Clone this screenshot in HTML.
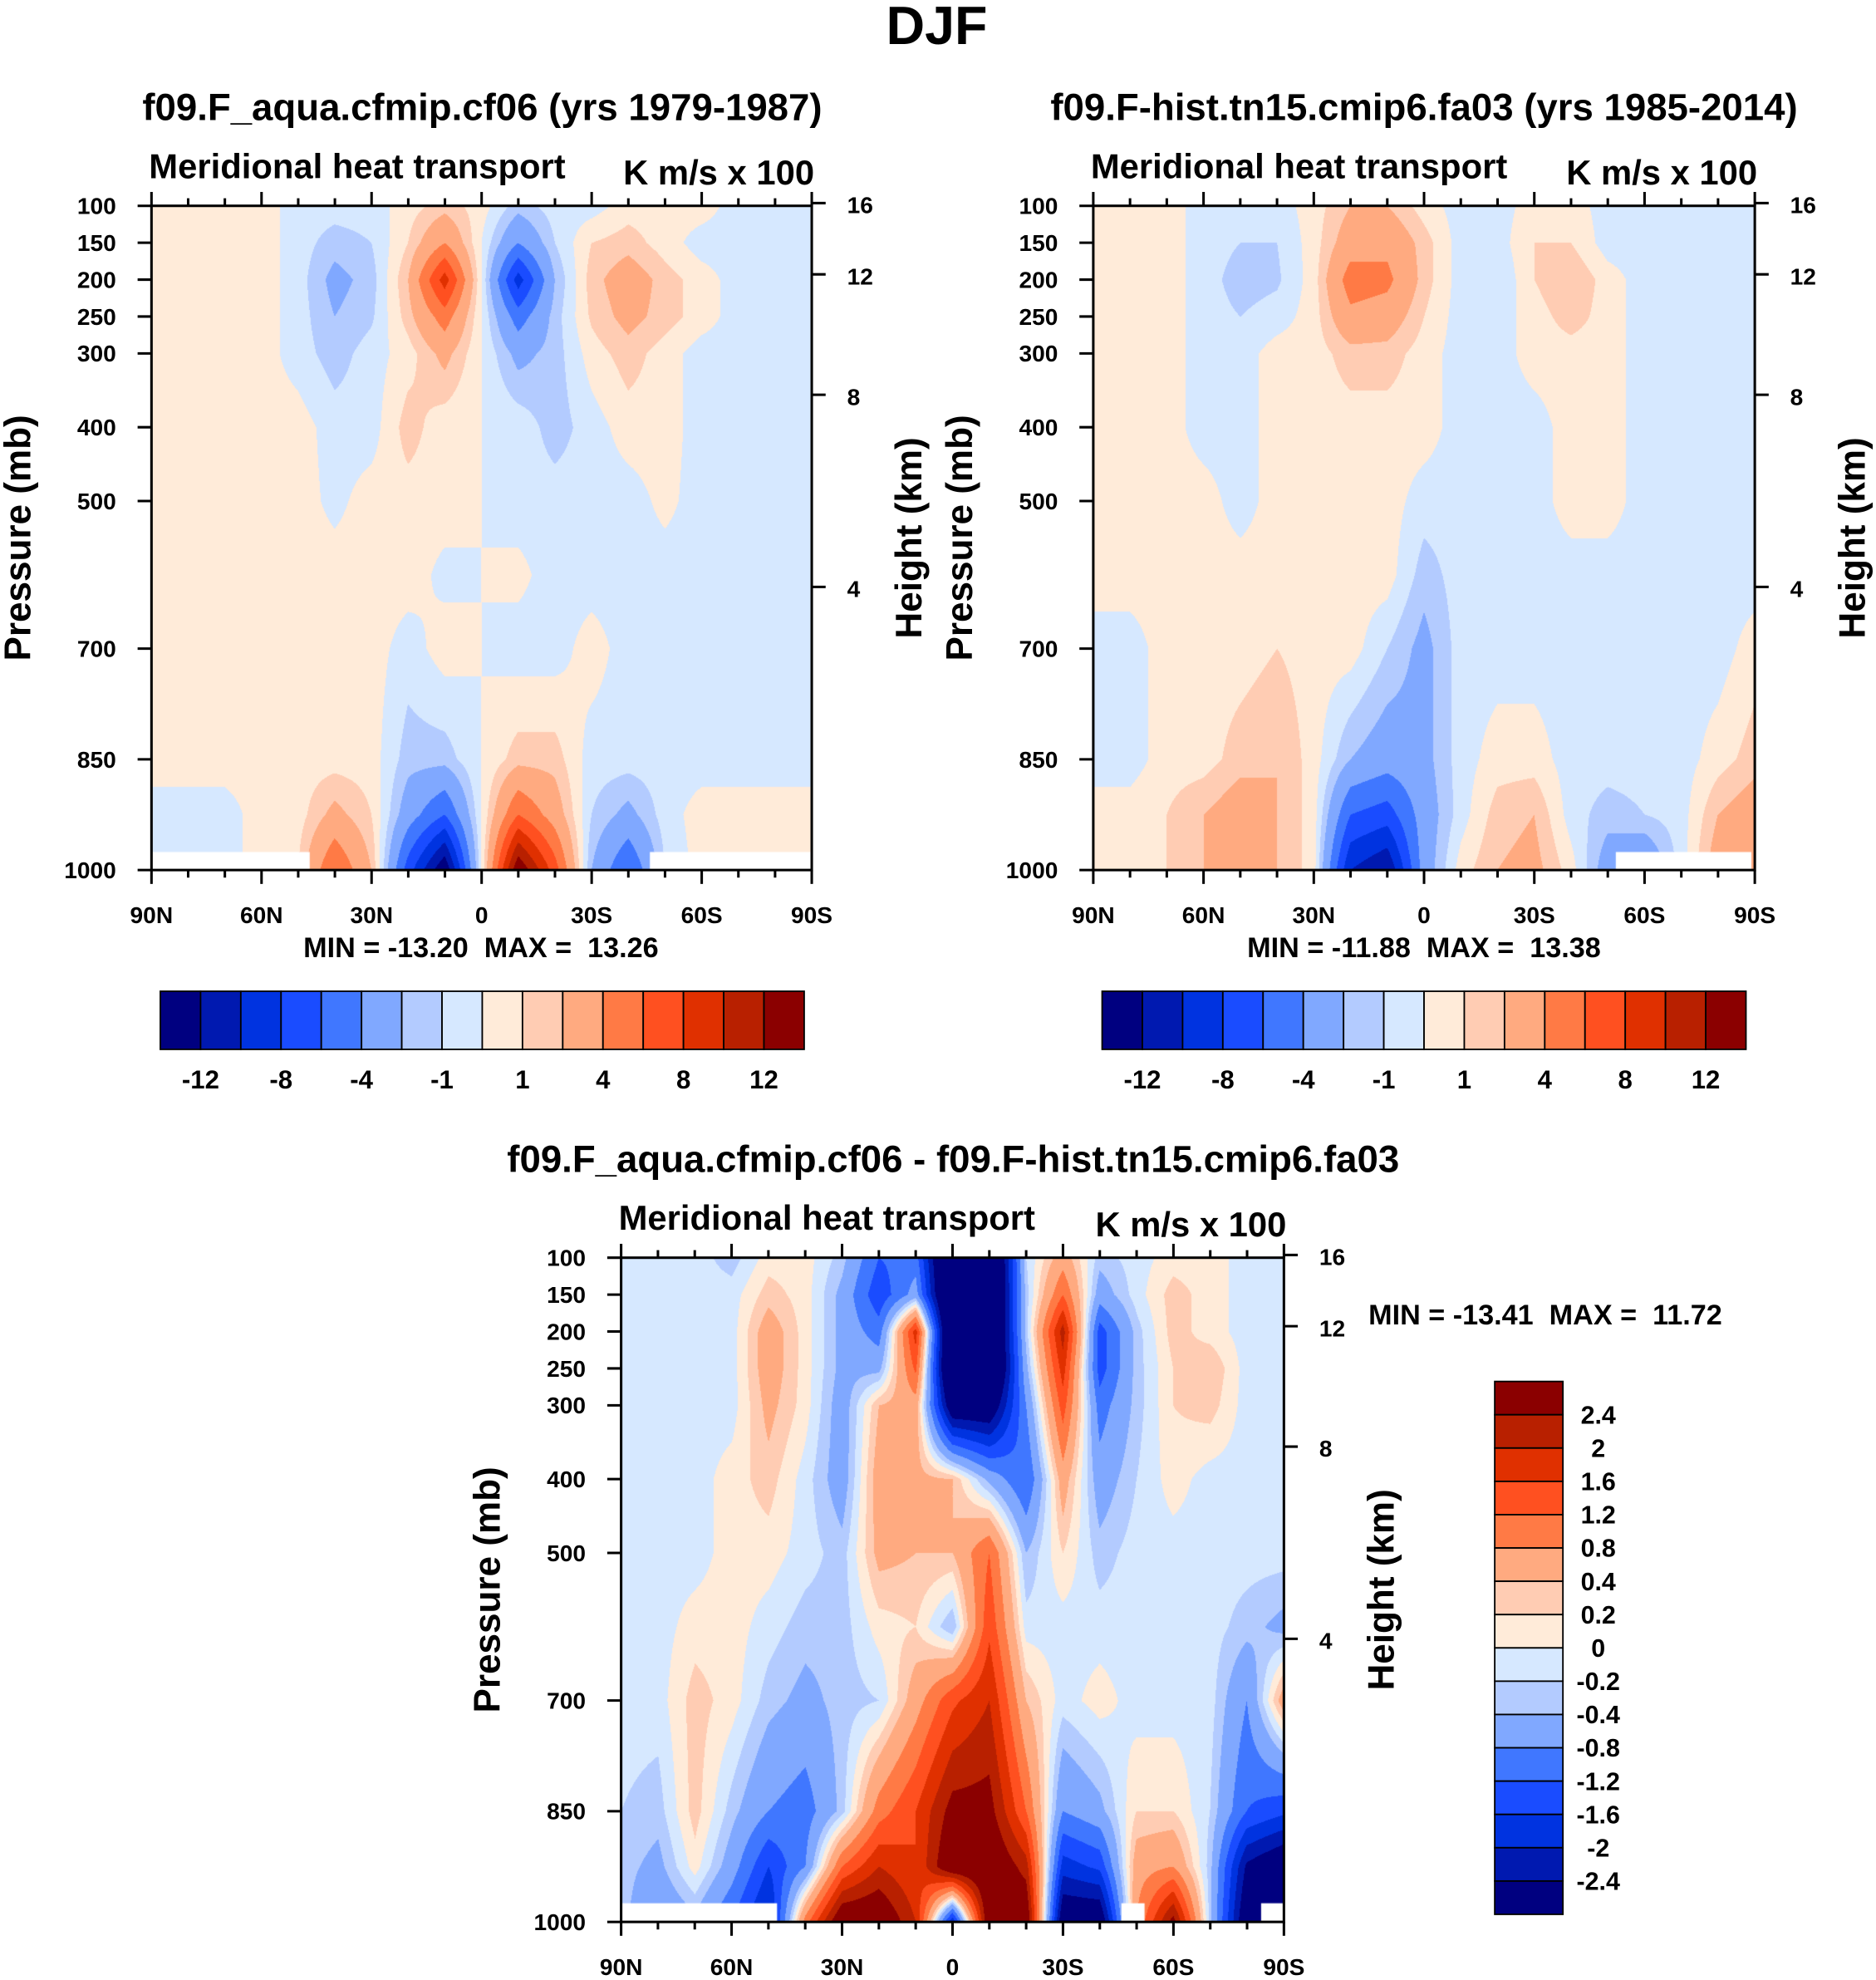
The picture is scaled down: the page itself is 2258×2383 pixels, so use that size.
<!DOCTYPE html>
<html><head><meta charset="utf-8"><style>
html,body{margin:0;padding:0;background:#fff}
#wrap{position:relative;width:2258px;height:2383px;overflow:hidden;background:#fff}
canvas{position:absolute}
svg{position:absolute;left:0;top:0}
text{font-family:"Liberation Sans",sans-serif;font-weight:bold;fill:#000;white-space:pre}
</style></head><body>
<div id="wrap">
<canvas id="c1"></canvas>
<canvas id="c2"></canvas>
<canvas id="c3"></canvas>
<svg id="svg" width="2258" height="2383" viewBox="0 0 1486 1568" preserveAspectRatio="none" xml:space="preserve"></svg>
</div>
<script>
const latLabels=["90N","60N","30N","0","30S","60S","90S"];
const pLevels=[100,150,200,250,300,400,500,600,700,850,925,1000];
const pTicks=[100,150,200,250,300,400,500,700,850,1000];
const hTicks=[16,12,8,4];
const levelsA=[-12,-10,-8,-6,-4,-2,-1,0,1,2,4,6,8,10,12];
const levelsD=[-2.4,-2,-1.6,-1.2,-0.8,-0.4,-0.2,0,0.2,0.4,0.8,1.2,1.6,2,2.4];
const labelsA=["-12","-8","-4","-1","1","4","8","12"];
const labelsD=["2.4","2","1.6","1.2","0.8","0.4","0.2","0","-0.2","-0.4","-0.8","-1.2","-1.6","-2","-2.4"];
const colors=["#000080","#0019b0","#0033e0","#1a4cff","#4077ff","#80a8ff","#b3cbff","#d6e8ff","#ffebd9","#ffccb3","#ffaa80","#ff7a45","#ff5020","#e03000","#b82000","#8b0000"];
// rows = pLevels, cols = 90N..90S every 10 deg
const field1=[
[0.5,0.5,0.5,0.5,-0.5,-0.5,-0.5,0.5,1.5,0.5,-1.5,-0.5,-0.5,0.5,0.5,0.5,-0.5,-0.5,-0.5],
[0.5,0.5,0.5,0.5,-0.5,-1.5,-1,1,4,0,-4,-1,1,1.5,0.5,-0.5,-0.5,-0.5,-0.5],
[0.5,0.5,0.5,0.5,-0.5,-2.5,-1.5,2,9,0,-9,-2,1.5,3,1.5,0.5,-0.5,-0.5,-0.5],
[0.5,0.5,0.5,0.5,-0.5,-2,-1.2,1.5,5,0,-5,-1.5,1.2,2.5,1.5,0.5,-0.5,-0.5,-0.5],
[0.5,0.5,0.5,0.5,-0.5,-1.5,-0.5,0.5,2.5,0,-2.5,-1.5,0.5,1.5,0.5,-0.5,-0.5,-0.5,-0.5],
[0.5,0.5,0.5,0.5,0.5,-0.5,-0.5,1.5,0.3,0,-0.3,-1.5,-0.5,0.5,0.5,-0.5,-0.5,-0.5,-0.5],
[0.5,0.5,0.5,0.5,0.5,-0.3,0.5,0.5,0.5,0,-0.5,-0.5,-0.5,-0.5,0.3,-0.5,-0.5,-0.5,-0.5],
[0.5,0.5,0.5,0.5,0.5,0.5,0.5,0.5,-0.3,0,0.3,-0.5,-0.5,-0.5,-0.5,-0.5,-0.5,-0.5,-0.5],
[0.5,0.5,0.5,0.5,0.5,0.5,0.5,-0.5,0.5,0,-0.5,-0.5,0.5,-0.5,-0.5,-0.5,-0.5,-0.5,-0.5],
[0.5,0.5,0.5,0.5,0.5,0.5,0.5,-1.5,-1.5,0,1.5,1.5,-0.5,-0.5,-0.5,-0.5,-0.5,-0.5,-0.5],
[-0.5,-0.5,-0.5,0.5,0.5,2.5,1,-3,-6,0,6,3,-1,-2.5,-0.5,0.5,0.5,0.5,0.5],
[-0.5,-0.5,-0.5,0.5,1,6,2,-7,-14,0,14,7,-2,-6,-1,0.5,0.5,0.5,0.5]];
const field2=[
[0.5,0.5,0.5,-0.5,-0.5,-0.5,0.5,2,2,0.5,-0.5,-0.5,0.5,0.5,-0.5,-0.5,-0.5,-0.5,-0.5],
[0.5,0.5,0.5,-0.5,-1,-1,0.5,3,3.5,1.5,-0.5,-0.5,1,1,-0.5,-0.5,-0.5,-0.5,-0.5],
[0.5,0.5,0.5,-0.5,-1.5,-1.2,0.5,5,4.5,1.5,-0.5,-1,1,2,0.5,-0.5,-0.5,-0.5,-0.5],
[0.5,0.5,0.5,-0.5,-1,-0.5,0.5,3.5,3,1,-0.5,-0.5,0.5,1.5,0.5,-0.5,-0.5,-0.5,-0.5],
[0.5,0.5,0.5,-0.5,-0.5,0.5,0.5,1.5,1.5,0.5,-0.5,-0.5,0.5,0.5,0.5,-0.5,-0.5,-0.5,-0.5],
[0.5,0.5,0.5,-0.5,-0.5,0.5,0.5,0.5,0.5,0.5,-0.5,-0.5,-0.5,0.5,0.5,-0.5,-0.5,-0.5,-0.5],
[0.5,0.5,0.5,0.5,-0.5,0.5,0.5,0.5,0.5,-0.5,-0.5,-0.5,-0.5,0.5,0.5,-0.5,-0.5,-0.5,-0.5],
[0.5,0.5,0.5,0.5,0.5,0.5,0.5,0.5,0.5,-1.5,-0.5,-0.5,-0.5,-0.5,-0.5,-0.5,-0.5,-0.5,-0.5],
[-0.5,-0.5,0.5,0.5,0.5,1,0.5,0.5,-1,-2.5,-0.5,-0.5,-0.5,-0.5,-0.5,-0.5,-0.5,-0.5,0.5],
[-0.5,-0.5,0.5,0.5,1.5,2,0.5,-2,-3,-2.5,-0.5,0.5,0.5,-0.5,-0.5,-0.5,-0.5,0.5,1.5],
[0.5,0.5,1,2,3,2,0.5,-6,-7,-3,-0.5,1.5,2,-0.5,-1.5,-1,-0.5,2,3],
[0.5,0.5,1,2,4,2,0.5,-10,-12,-3,0.5,2,2.5,0.5,-3,-4,-0.5,3,4]];
const field3=[
[-0.1,-0.1,-0.1,-0.3,0.1,0.1,-0.3,-1.2,-1,-4,-4,-0.2,0.6,-0.3,-0.1,0.1,0.1,-0.1,-0.1],
[-0.1,-0.1,-0.1,-0.1,0.3,0.1,-0.5,-1.5,-0.6,-4,-4,-0.3,1.2,-0.6,-0.1,0.3,0.1,-0.1,-0.1],
[-0.1,-0.1,-0.1,-0.1,0.6,0.1,-0.5,-1,1.8,-4,-4,-0.3,2.2,-1.4,-0.3,0.3,0.1,-0.1,-0.1],
[-0.1,-0.1,-0.1,-0.1,0.6,0.1,-0.5,-0.5,1.3,-4,-4,-0.5,1.8,-1.4,-0.3,0.2,0.4,-0.1,-0.1],
[-0.1,-0.1,-0.1,-0.1,0.5,0.1,-0.6,0.4,0.6,-3,-3,-0.8,1.4,-1,-0.3,0.2,0.3,-0.1,-0.1],
[-0.1,-0.1,-0.1,0.1,0.3,-0.1,-0.6,0.6,0.5,0.4,-0.5,-1.2,0.6,-0.6,-0.2,0.1,-0.1,-0.1,-0.1],
[-0.1,-0.1,-0.1,0.1,0.1,-0.1,-0.3,0.5,0.4,0.4,1.2,-0.4,0.2,-0.3,-0.1,-0.1,-0.1,-0.1,-0.1],
[-0.1,-0.1,0.1,0.1,-0.1,-0.3,-0.3,0.1,0.2,-0.4,1.5,-0.1,-0.1,-0.1,-0.1,-0.1,-0.1,-0.3,-0.5],
[-0.1,-0.1,0.3,0.1,-0.3,-0.5,-0.3,-0.2,0.6,1.5,2,0.4,-0.1,0.1,-0.1,-0.1,-0.1,-0.8,0.6],
[-0.2,-0.3,0.3,-0.3,-0.8,-1,-0.3,1,1.6,2.6,2.6,1.2,-0.8,-0.5,0.2,0.2,-0.2,-1.2,-1.5],
[-0.3,-0.5,0.1,-0.6,-1.6,-0.8,1.2,2,1.6,3,3,2.2,-1.8,-1.5,0.6,0.8,-0.3,-2.5,-3],
[-0.3,-0.8,-0.5,-1.2,-2.2,1,3,3,2,-2,3,3,-3,-3,0.8,2.6,-0.3,-3,-3]];

const S=2258/1486, SY=2383/1568;
const svg=document.getElementById('svg');
const NS='http://www.w3.org/2000/svg';
function mk(tag,attrs,parent){const e=document.createElementNS(NS,tag);for(const k in attrs)e.setAttribute(k,attrs[k]);(parent||svg).appendChild(e);return e;}
function txt(s,x,y,size,anchor,parent,rot){const e=mk('text',{x:x,y:y,'font-size':size,'text-anchor':anchor||'middle'},parent);if(rot)e.setAttribute('transform','rotate(-90 '+x+' '+y+')');e.textContent=s;return e;}
function colorIdx(v,lv){let i=0;while(i<lv.length&&v>=lv[i])i++;return i;}
function hex(c){return [parseInt(c.substr(1,2),16),parseInt(c.substr(3,2),16),parseInt(c.substr(5,2),16)];}
const rgb=colors.map(hex);

function sample(f,fx,p){
  const cx=fx*18;let c0=Math.min(17,Math.floor(cx));const tx=cx-c0;
  let r0=0;while(r0<pLevels.length-2&&p>pLevels[r0+1])r0++;
  const ty=Math.max(0,Math.min(1,(p-pLevels[r0])/(pLevels[r0+1]-pLevels[r0])));
  const a=f[r0][c0]*(1-tx)+f[r0][c0+1]*tx, b=f[r0+1][c0]*(1-tx)+f[r0+1][c0+1]*tx;
  return a*(1-ty)+b*ty;
}
function drawField(id,X,Y,W,H,f,lv,masks){
  const cv=document.getElementById(id);
  const L=Math.round(X*S),T=Math.round(Y*SY),w=Math.round((X+W)*S)-L,h=Math.round((Y+H)*SY)-T;
  cv.style.left=L+'px';cv.style.top=T+'px';cv.width=w;cv.height=h;
  const ctx=cv.getContext('2d');const im=ctx.createImageData(w,h);
  for(let j=0;j<h;j++){const p=100+900*(j+0.5)/h;
    for(let i=0;i<w;i++){const fx=(i+0.5)/w;
      const c=rgb[colorIdx(sample(f,fx,p),lv)];const k=(j*w+i)*4;
      im.data[k]=c[0];im.data[k+1]=c[1];im.data[k+2]=c[2];im.data[k+3]=255;}}
  ctx.putImageData(im,0,0);
  ctx.fillStyle='#fff';
  masks.forEach(m=>{ctx.fillRect(m[0]*w,(1-m[2])*h,(m[1]-m[0])*w,m[2]*h+1);});
}
function panel(X,Y,W,H,name){
  const g=mk('g',{});
  mk('rect',{x:X,y:Y,width:W,height:H,fill:'none',stroke:'#000','stroke-width':2},g);
  const yOf=p=>Y+(p-100)/900*H;
  pTicks.forEach(p=>{const y=yOf(p);mk('line',{x1:X-11,x2:X,y1:y,y2:y,stroke:'#000','stroke-width':2},g);txt(String(p),X-28,y+6.5,18.5,'end',g);});
  hTicks.forEach(z=>{const p=1013.25*Math.pow(1-2.25577e-5*z*1000,5.25588);const y=yOf(p);
    mk('line',{x1:X+W,x2:X+W+11,y1:y,y2:y,stroke:'#000','stroke-width':2},g);txt(String(z),X+W+28,y+8,18.5,'start',g);});
  for(let k=0;k<=18;k++){const x=X+k/18*W;const major=k%3===0;const len=major?11:6;
    mk('line',{x1:x,x2:x,y1:Y,y2:Y-len,stroke:'#000','stroke-width':2},g);
    mk('line',{x1:x,x2:x,y1:Y+H,y2:Y+H+len,stroke:'#000','stroke-width':2},g);
    if(major)txt(latLabels[k/3],x,Y+H+42,18.5,'middle',g);}
  txt('Meridional heat transport',X-2,Y-22,27.5,'start',g);
  txt('K m/s x 100',X+W+2,Y-17,27.5,'end',g);
  txt('Pressure (mb)',X-96,Y+H/2,29,'middle',g,true);
  txt('Height (km)',X+W+87,Y+H/2,29,'middle',g,true);
}
function hbar(X,Y,W,H,name){
  const g=mk('g',{});const bw=W/16;
  colors.forEach((c,i)=>mk('rect',{x:X+i*bw,y:Y,width:bw,height:H,fill:c,stroke:'#000','stroke-width':1.2},g));
  labelsA.forEach((s,i)=>txt(s,X+(2*i+1)*bw,Y+H+31,20.5,'middle',g));
}
function vbar(X,Y,W,H,name){
  const g=mk('g',{});const bh=H/16;
  colors.slice().reverse().forEach((c,i)=>mk('rect',{x:X,y:Y+i*bh,width:W,height:bh,fill:c,stroke:'#000','stroke-width':1.2},g));
  labelsD.forEach((s,i)=>txt(s,X+W+28,Y+(i+1)*bh+7,20,'middle',g));
}
drawField('c1',120,163,523,526,field1,levelsA,[[0,0.24,0.027],[0.755,1,0.027]]);
drawField('c2',866,163,524,526,field2,levelsA,[[0.79,0.995,0.027]]);
drawField('c3',492,996,525,526,field3,levelsD,[[0,0.235,0.028],[0.755,0.79,0.028],[0.966,1,0.028]]);
txt('DJF',742,35,42.5,'middle',null);
txt('f09.F_aqua.cfmip.cf06 (yrs 1979-1987)',382,95,30,'middle',null);
txt('f09.F-hist.tn15.cmip6.fa03 (yrs 1985-2014)',1128,95,30,'middle',null);
txt('f09.F_aqua.cfmip.cf06 - f09.F-hist.tn15.cmip6.fa03',755,928,30,'middle',null);
panel(120,163,523,526,'panel1');
panel(866,163,524,526,'panel2');
panel(492,996,525,526,'panel3');
txt('MIN = -13.20  MAX =  13.26',381,758,22.5,'middle',null);
txt('MIN = -11.88  MAX =  13.38',1128,758,22.5,'middle',null);
txt('MIN = -13.41  MAX =  11.72',1084,1049,22.5,'start',null);
hbar(127,785,510,46,'colorbar-panel1');
hbar(873,785,510,46,'colorbar-panel2');
vbar(1184,1094,54,422,'colorbar-difference');
</script>
</body></html>
